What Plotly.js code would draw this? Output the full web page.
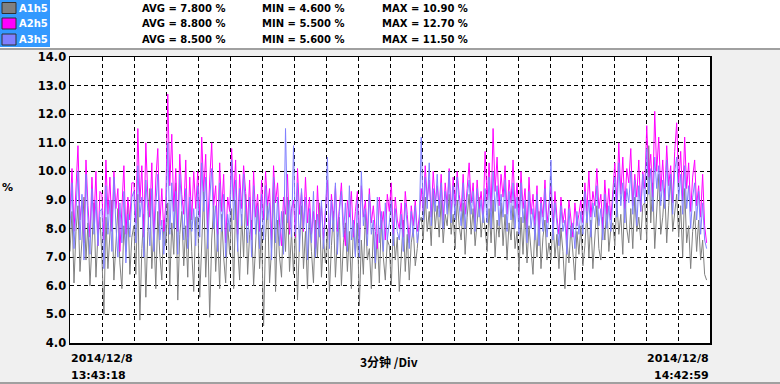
<!DOCTYPE html>
<html><head><meta charset="utf-8">
<script src="https://cdn.plot.ly/plotly-3.0.1.min.js"></script>
<style>html,body{margin:0;padding:0;background:#f0f0f0;}#c{width:780px;height:384px;}</style>
</head><body><div id="c"></div>
<script>
// ---- data ----
const seriesNames = ['A1h5', 'A2h5', 'A3h5'];
const seriesColors = ['#808080', '#ff00ff', '#8080ff'];
const avgLabels = ['AVG = 7.800 %', 'AVG = 8.800 %', 'AVG = 8.500 %'];
const minLabels = ['MIN = 4.600 %', 'MIN = 5.500 %', 'MIN = 5.600 %'];
const maxLabels = ['MAX = 10.90 %', 'MAX = 12.70 %', 'MAX = 11.50 %'];
const startTime = '2014-12-08T13:43:18Z';
const endTime = '2014-12-08T14:42:59Z';
const startLabel = ['2014/12/8', '13:43:18'];
const endLabel = ['2014/12/8', '14:42:59'];
const divLabel = '3分钟 /Div';
const yUnit = '%';

const a1 = [
7.2,8.6,6.1,7.9,8.8,6.5,7.6,9.1,6.9,8.2,6.0,7.4,8.9,6.3,7.8,8.4,
7.0,5.0,8.4,6.6,7.8,9.0,6.2,7.5,8.7,6.8,5.9,8.1,7.2,8.8,6.4,7.7,
8.1,6.4,9.2,4.8,7.3,8.5,5.6,7.9,9.4,6.6,8.0,5.9,8.6,7.1,6.2,8.3,
7.4,8.9,6.0,8.2,7.1,9.6,5.5,7.8,8.6,6.7,8.1,6.3,9.0,7.2,5.8,8.4,
8.4,5.6,7.2,9.3,6.3,8.0,4.9,7.6,8.8,6.5,7.9,5.9,8.5,7.0,6.1,8.2,
7.1,8.7,5.9,9.0,7.4,6.2,8.5,7.0,9.2,6.4,7.8,8.3,6.0,7.5,8.9,6.6,
8.0,4.6,7.7,8.9,6.1,7.3,9.5,5.8,8.3,7.0,6.3,8.6,7.2,9.1,6.5,7.9,
6.4,8.1,5.5,7.6,8.8,6.6,7.9,5.9,8.5,7.2,6.1,8.3,7.0,8.9,6.3,7.7,
6.8,8.0,5.8,7.4,8.6,6.3,7.7,8.4,6.0,7.5,8.2,6.5,7.9,5.9,8.1,7.1,
8.2,5.3,7.6,6.4,8.5,6.9,7.3,5.9,8.0,6.6,7.8,6.1,8.3,7.0,6.2,7.6,
7.4,6.0,8.1,6.9,7.7,5.8,7.2,8.3,6.5,7.8,6.2,7.5,8.0,6.7,7.3,8.2,
8.4,7.6,9.1,7.9,8.6,7.4,9.3,8.0,8.8,7.7,9.0,7.5,8.5,8.1,9.2,7.8,
8.5,7.3,9.0,8.1,7.6,8.9,7.1,8.4,9.2,7.8,8.7,7.4,8.2,9.1,7.7,8.6,
8.0,7.2,8.7,7.5,9.0,7.0,8.3,7.7,8.9,7.4,8.5,6.9,8.2,7.6,8.8,7.3,
7.9,6.5,8.4,7.1,8.8,6.8,8.1,7.3,6.4,8.2,7.0,8.6,6.6,7.7,8.3,6.9,
7.5,6.9,8.3,7.0,7.8,6.6,8.0,7.2,5.9,7.6,6.8,8.1,7.3,6.2,7.9,7.1,
8.1,6.7,7.4,8.6,7.0,8.3,6.6,7.9,8.8,7.3,6.9,8.4,7.6,8.9,7.2,8.0,
8.2,7.4,9.0,7.8,8.5,7.1,9.3,8.0,7.5,8.7,7.3,9.1,7.9,8.4,7.6,8.8,
8.9,7.6,10.9,8.2,9.6,7.3,8.6,9.9,7.8,8.4,9.4,7.5,8.8,9.7,7.9,8.5,
9.2,7.7,8.8,7.0,9.4,7.5,8.1,6.6,7.9,8.6,7.2,8.3,6.9,7.6,6.4,6.2];
const a2 = [
8.6,10.1,7.9,9.5,10.9,8.3,9.0,7.5,10.4,8.8,7.7,9.8,8.2,10.0,7.4,9.3,
9.2,7.6,10.4,8.5,9.8,7.9,10.0,8.7,9.4,7.2,8.9,10.2,7.8,9.1,8.3,9.6,
9.6,8.2,11.5,8.9,10.2,7.7,11.0,9.1,8.4,10.3,7.6,9.7,10.8,8.1,9.4,7.9,
8.9,12.7,9.5,11.3,8.6,10.1,7.9,10.6,9.2,8.5,10.4,7.7,9.8,8.3,10.0,8.7,
10.0,8.4,11.2,9.3,10.6,8.0,9.7,11.0,8.8,9.5,7.8,10.3,8.6,9.9,7.5,9.1,
8.6,10.8,9.0,10.4,7.8,9.9,8.7,10.2,9.3,8.1,9.7,7.6,10.0,8.4,9.2,7.9,
9.7,8.3,10.0,8.8,9.4,7.6,10.2,8.9,9.6,8.2,7.4,9.1,8.5,9.9,7.8,8.7,
9.0,7.7,10.1,8.5,9.3,7.9,9.8,8.2,9.1,7.8,8.6,7.3,9.5,8.0,8.8,7.6,
8.7,9.7,7.6,9.2,8.3,9.5,7.9,8.9,9.6,8.1,7.4,9.0,8.4,9.3,7.7,8.6,
9.3,7.5,9.5,8.4,9.0,7.8,9.4,8.2,8.8,7.9,7.3,9.1,8.0,8.6,7.6,9.2,
8.6,9.6,7.8,9.1,8.3,8.0,8.9,7.7,9.3,8.5,7.5,8.8,8.1,9.0,7.9,8.4,
9.4,8.6,10.2,9.0,9.7,8.4,10.0,8.9,9.5,8.7,9.9,8.3,9.6,8.8,10.1,8.5,
9.8,8.8,10.0,9.2,8.6,9.9,8.5,9.4,10.3,8.9,9.6,8.2,9.7,8.7,9.3,8.4,
10.7,9.0,10.3,8.6,11.5,9.3,10.5,8.8,9.9,9.1,10.2,8.5,9.7,8.9,10.4,8.7,
9.6,8.3,10.0,8.7,9.4,8.0,9.8,8.5,9.2,8.1,9.5,7.8,9.1,8.4,9.7,8.2,
8.8,9.5,8.0,9.3,8.4,7.8,9.1,8.2,8.7,7.6,9.0,8.3,7.7,8.9,8.1,8.5,
9.0,8.2,9.6,8.6,10.0,8.4,9.3,8.8,10.1,8.7,9.2,8.0,9.7,8.5,9.4,8.3,
9.5,10.3,8.9,11.0,9.2,10.5,8.7,10.1,9.6,10.8,8.8,9.9,9.1,10.4,8.6,10.0,
9.4,11.6,9.8,10.6,9.1,12.1,10.0,11.2,9.3,10.4,9.0,10.9,9.5,10.2,8.9,10.7,
11.7,9.6,10.7,9.0,11.2,9.4,10.3,8.6,9.8,10.4,8.8,9.5,8.4,9.9,8.1,7.5];
const a3 = [
8.0,9.6,7.3,8.8,10.0,7.6,9.2,6.9,9.9,8.3,7.1,9.4,7.8,9.0,7.4,8.6,
8.7,6.6,9.5,7.8,9.0,7.2,9.8,8.1,7.0,8.9,7.5,9.3,6.8,8.5,7.7,9.1,
9.3,7.5,10.2,8.4,9.1,7.0,9.7,8.6,7.4,9.4,7.2,8.8,9.9,7.6,8.3,7.1,
8.2,11.0,7.8,9.6,8.0,9.3,7.1,9.9,8.5,7.6,9.4,7.3,9.1,7.9,8.7,7.4,
9.5,7.7,10.3,8.6,9.8,7.3,9.0,10.1,8.0,8.8,7.2,9.6,7.9,9.2,7.0,8.5,
7.9,10.4,8.3,9.7,7.2,9.4,8.1,9.9,8.6,7.5,9.1,7.0,9.5,7.8,8.8,7.3,
9.2,7.6,9.5,8.3,8.9,6.9,9.8,7.5,9.1,7.4,8.6,7.1,11.5,8.2,9.0,7.7,
10.9,7.8,9.6,7.2,9.4,8.0,9.1,6.9,8.7,7.5,9.3,7.0,8.5,7.7,9.0,7.3,
8.4,10.5,7.3,9.0,7.9,9.6,7.1,8.6,9.3,7.7,8.9,7.2,9.5,7.6,8.3,7.0,
9.0,7.0,10.0,8.1,8.7,7.4,9.2,7.8,8.3,6.8,9.1,7.5,8.6,7.2,8.9,7.6,
8.2,9.0,7.4,8.7,7.9,7.6,8.5,7.2,8.9,8.0,7.3,8.6,7.7,8.8,7.5,8.1,
11.2,8.3,9.8,8.7,10.3,8.1,9.4,8.6,9.9,8.4,9.6,8.0,9.3,8.5,10.0,8.2,
9.5,8.3,9.8,8.8,8.1,9.6,8.0,9.1,9.7,8.5,9.3,7.9,9.4,8.4,9.0,8.2,
9.4,8.2,9.8,8.0,10.0,8.6,9.5,8.1,9.2,8.4,9.7,7.9,9.3,8.3,9.6,8.0,
9.1,7.8,9.6,8.2,9.0,7.5,9.3,8.0,8.7,7.6,9.2,7.4,8.9,7.9,9.4,7.7,
8.5,10.4,7.6,8.9,8.0,7.4,8.8,7.9,8.3,7.1,8.7,7.7,8.2,7.3,8.6,7.8,
8.6,7.8,9.3,8.2,9.0,7.7,8.9,8.4,9.5,8.1,8.7,7.6,9.2,8.0,8.8,7.9,
9.0,9.8,8.4,10.3,8.8,9.6,8.2,9.4,8.9,10.0,8.5,9.7,8.1,9.5,8.6,9.9,
8.9,10.8,9.2,10.1,8.6,10.5,9.4,10.2,8.8,9.7,8.7,10.4,9.0,9.9,8.5,10.0,
10.5,9.0,9.9,8.5,10.2,8.7,9.5,8.0,9.1,9.6,8.3,9.3,7.8,8.9,7.6,7.3];
const seriesValues = [a1, a2, a3];

// ---- build ----
const t0 = Date.parse(startTime), t1 = Date.parse(endTime);
function times(n){ const out=[]; for(let i=0;i<n;i++) out.push(t0 + i*(t1-t0)/(n-1)); return out; }
const traces = seriesValues.map((v,k)=>({
  x: times(v.length), y: v, type:'scatter', mode:'lines',
  line:{color:seriesColors[k], width:1}, name:seriesNames[k], hoverinfo:'skip'
}));

const L=70, R=710, T=57, B=343;
const px = x => (x-L)/(R-L);
const py = y => (B-y)/(B-T);
const F = 'DejaVu Sans, Verdana, sans-serif';

const shapes = [
  {type:'rect', xref:'paper', yref:'paper', x0:px(0), x1:px(780), y0:py(48), y1:py(0), fillcolor:'#ffffff', line:{width:0}, layer:'below'},
  {type:'rect', xref:'paper', yref:'paper', x0:px(0), x1:px(50), y0:py(47), y1:py(0), fillcolor:'#3399ff', line:{width:0}, layer:'below'},
  {type:'line', xref:'paper', yref:'paper', x0:px(0), x1:px(780), y0:py(49), y1:py(49), line:{color:'#a0a0a0', width:2}},
  {type:'line', xref:'paper', yref:'paper', x0:px(0), x1:px(780), y0:py(383), y1:py(383), line:{color:'#a0a0a0', width:2}}
];
const rowY = [8, 23.5, 39.5];
const annotations = [];
function ann(text, x, y, xanchor, font){
  annotations.push({text:text, xref:'paper', yref:'paper', x:px(x), y:py(y), xanchor:xanchor, yanchor:'middle',
    showarrow:false, font:font});
}
seriesNames.forEach((nm,k)=>{
  shapes.push({type:'rect', xref:'paper', yref:'paper', x0:px(2), x1:px(16), y0:py(rowY[k]+5.5), y1:py(rowY[k]-5.5),
    fillcolor:seriesColors[k], line:{color:'#303030', width:1}});
  ann(nm, 17, rowY[k], 'left', {family:F, size:10, color:'#ffffff', weight:'bold'});
  [[avgLabels,140],[minLabels,260],[maxLabels,380]].forEach(([arr,xx])=>{
    ann(arr[k], xx, rowY[k], 'left', {family:F, size:10, color:'#000000', weight:'bold'});
  });
});
const bf = {family:F, size:11, color:'#000', weight:'bold'};
ann(yUnit, 0, 187, 'left', bf);
ann(startLabel[0], 69, 358, 'left', bf);
ann(startLabel[1], 69, 375, 'left', bf);
ann(endLabel[0], 711, 358, 'right', bf);
ann(endLabel[1], 711, 375, 'right', bf);
ann(divLabel, 389, 361, 'center', {family:'Noto Sans CJK SC, DejaVu Sans', size:12, color:'#000', weight:'bold'});

const layout = {
  width:780, height:384, margin:{l:L, r:780-R, t:T, b:384-B, pad:0},
  paper_bgcolor:'#f0f0f0', plot_bgcolor:'#ffffff', showlegend:false,
  font:{family:F},
  xaxis:{type:'date', range:[t0, t0+60*60000], tick0:t0, dtick:180000, showticklabels:false, ticks:'',
    showgrid:true, gridcolor:'#000000', gridwidth:1, griddash:'4px,3px', zeroline:false,
    showline:true, mirror:true, linecolor:'#000000', linewidth:1.5, fixedrange:true},
  yaxis:{range:[4,14], dtick:1, tick0:4, tickformat:'.1f', ticks:'',
    tickfont:{family:F, size:11.5, color:'#000', weight:'bold'},
    showgrid:true, gridcolor:'#000000', gridwidth:1, griddash:'4px,3px', zeroline:false,
    showline:true, mirror:true, linecolor:'#000000', linewidth:1.5, fixedrange:true},
  shapes:shapes, annotations:annotations
};
Plotly.newPlot('c', traces, layout, {staticPlot:true, displayModeBar:false});
</script></body></html>
